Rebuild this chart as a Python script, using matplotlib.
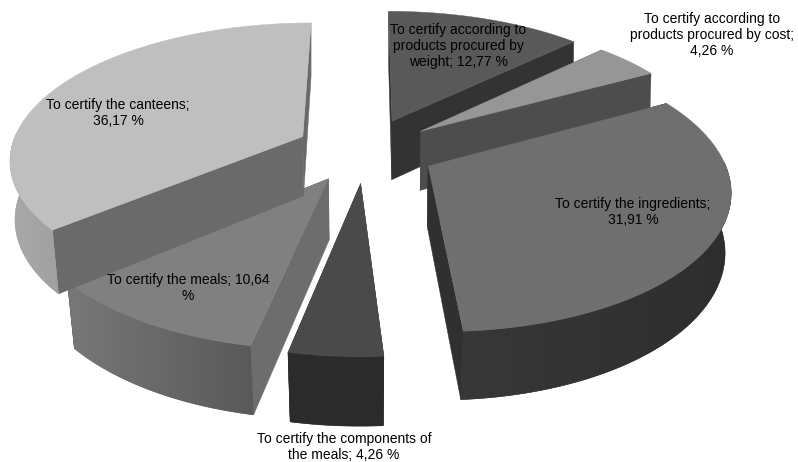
import numpy as np
import matplotlib
matplotlib.use("Agg")
import matplotlib.pyplot as plt
from matplotlib.colors import LinearSegmentedColormap

plt.rcParams['font.family'] = ['Liberation Sans', 'DejaVu Sans']

# clockwise from the top of the pie
labels = [
    "To certify according to\nproducts procured by\nweight; {} %",
    "To certify according to\nproducts procured by cost;\n{} %",
    "To certify the ingredients;\n{} %",
    "To certify the components of\nthe meals; {} %",
    "To certify the meals; {}\n%",
    "To certify the canteens;\n{} %",
]
values = [12.77, 4.26, 31.91, 4.26, 10.64, 36.17]

# styles for each slice
top_colors = ['#595959', '#969696', '#6f6f6f', '#4a4a4a', '#808080', '#bfbfbf']
radial_colors = ['#333333', '#4d4d4d', '#303030', '#2b2b2b', '#6d6d6d', '#6a6a6a']
rim_left = ['#333333', '#4d4d4d', '#383838', '#2b2b2b', '#787878', '#aaaaaa']
rim_right = ['#333333', '#4d4d4d', '#2e2e2e', '#2b2b2b', '#595959', '#a0a0a0']
label_pos = [(458, 46), (712, 35), (633, 212), (344, 447), (188, 288), (118, 113)]
draw_order = [0, 1, 5, 2, 4, 3]

CX, CY = 365.5, 150
PERSP = 6.5
FX, FY = 1900, 877
HEIGHT = 60
EXPLODE = 0.24


def project(x, v, lower=False):
    w = PERSP + v
    sx = CX + FX * x / w
    sy = CY - FY * v / w
    if lower:
        sx = CX + (sx - CX) * (0.987 + 0.012 * v)
        sy = sy + HEIGHT * (PERSP / w) ** 0.7
    return sx, sy


fig = plt.figure(figsize=(7.98, 4.62), dpi=100)
ax = fig.add_axes([0, 0, 1, 1])

share = np.array(values) / sum(values)
ends = 90 - 360 * np.cumsum(share)
starts = ends + 360 * share


def draw_slice(i):
    a0, a1 = np.radians(starts[i]), np.radians(ends[i])
    mid = (a0 + a1) / 2
    ox, ov = EXPLODE * np.cos(mid), EXPLODE * np.sin(mid)
    t = np.linspace(a0, a1, 160)
    x = ox + np.cos(t)
    v = ov + np.sin(t)

    # flat sides from the centre to the rim
    for a in (a0, a1):
        px = np.array([ox, ox + np.cos(a)])
        pv = np.array([ov, ov + np.sin(a)])
        ux, uy = project(px, pv)
        lx, ly = project(px, pv, lower=True)
        ax.fill([ux[0], ux[1], lx[1], lx[0]], [uy[0], uy[1], ly[1], ly[0]],
                color=radial_colors[i], lw=0.3, zorder=i)

    # rim, only the part that faces the viewer, with a left to right gradient
    front = np.sin(t) <= 0.03
    if front.any():
        ux, uy = project(x[front], v[front])
        lx, ly = project(x[front], v[front], lower=True)
        rx = np.r_[ux, lx[::-1]]
        ry = np.r_[uy, ly[::-1]]
        base = ax.fill(rx, ry, color=rim_right[i], lw=0.3, zorder=i)[0]
        cmap = LinearSegmentedColormap.from_list('rim', [rim_left[i], rim_right[i]])
        img = ax.imshow(np.linspace(0, 1, 256).reshape(1, -1), cmap=cmap, aspect='auto',
                        extent=(rx.min(), rx.max(), ry.max(), ry.min()), zorder=i)
        img.set_clip_path(base)

    # top face
    tx, ty = project(np.r_[ox, x], np.r_[ov, v])
    ax.fill(tx, ty, color=top_colors[i], lw=0.3, zorder=i)


for i in draw_order:
    draw_slice(i)

for i in range(len(values)):
    text = labels[i].format(f"{values[i]:.2f}".replace('.', ','))
    ax.text(label_pos[i][0], label_pos[i][1], text, ha='center', va='center',
            fontsize=10, color='black', linespacing=1.22, zorder=20)

ax.set_xlim(0, 798)
ax.set_ylim(462, 0)
ax.axis('off')

fig.savefig('out.png', dpi=100)
